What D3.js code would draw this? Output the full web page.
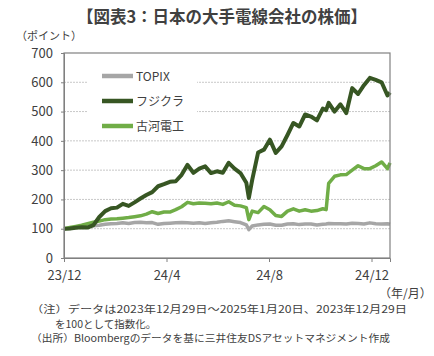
<!DOCTYPE html>
<html><head><meta charset="utf-8">
<script src="https://cdn.jsdelivr.net/npm/d3@7"></script>
<style>
body{margin:0;background:#fff;}
text{font-family:"Noto Sans CJK JP","Noto Sans",sans-serif;fill:#404040;}
</style></head>
<body><svg id="chart" width="434" height="356"></svg>
<script>
const dates = ["2023-12-29","2024-01-05","2024-01-12","2024-01-19","2024-01-26","2024-02-02","2024-02-09","2024-02-16","2024-02-23","2024-03-01","2024-03-08","2024-03-15","2024-03-22","2024-03-29","2024-04-05","2024-04-12","2024-04-19","2024-04-26","2024-05-03","2024-05-10","2024-05-17","2024-05-24","2024-05-31","2024-06-07","2024-06-14","2024-06-21","2024-06-28","2024-07-05","2024-07-12","2024-07-19","2024-07-26","2024-08-02","2024-08-05","2024-08-09","2024-08-16","2024-08-23","2024-08-30","2024-09-06","2024-09-13","2024-09-20","2024-09-27","2024-10-04","2024-10-11","2024-10-18","2024-10-25","2024-11-01","2024-11-05","2024-11-08","2024-11-15","2024-11-22","2024-11-29","2024-12-06","2024-12-13","2024-12-20","2024-12-27","2025-01-03","2025-01-10","2025-01-17","2025-01-20"];
const topix =    [100,101,105,108,109,110,112,115,117,118,120,118,121,122,120,121,115,118,119,120,121,120,119,120,118,120,122,125,127,124,121,113, 97,109,113,115,116,112,112,116,117,114,116,116,113,115,116,118,117,117,116,119,118,116,120,117,116,117,115];
const fujikura = [100,101,103,105,104,112,140,160,170,172,185,178,190,203,215,225,245,252,260,262,284,318,291,305,313,290,296,291,325,305,290,257,205,267,360,370,404,359,381,420,461,449,490,483,470,510,505,530,500,525,495,580,560,590,615,608,600,555,565];
const furukawa = [100,104,108,112,117,122,126,131,133,134,136,138,141,144,150,158,152,157,157,165,175,190,185,188,187,185,188,183,192,180,178,172,131,160,155,176,165,145,142,160,168,160,165,160,162,168,165,255,279,284,285,300,315,305,305,315,328,305,325];
const seriesNames = ["TOPIX","フジクラ","古河電工"];
const seriesColors = ["#a6a6a6","#375623","#70ad47"];
const seriesWidths = [3.5,4,3.5];
const yTicks = [0,100,200,300,400,500,600,700];
const xTickDates = ["2023-12-29","2024-04-29","2024-08-29","2024-12-29"];
const xTickLabels = ["23/12","24/4","24/8","24/12"];
const title = "【図表3：日本の大手電線会社の株価】";
const notes = ["（注）データは2023年12月29日～2025年1月20日、2023年12月29日","を100として指数化。","（出所）Bloombergのデータを基に三井住友DSアセットマネジメント作成"];

const parse = d3.timeParse("%Y-%m-%d");
const D = dates.map(parse);
const svg = d3.select("#chart");
const L=64, R=390, T=53, B=258;
const x = d3.scaleTime().domain([parse("2023-12-29"), parse("2025-01-20")]).range([L,R]);
const y = d3.scaleLinear().domain([0,700]).range([B,T]);

// title
svg.append("text").attr("x",222).attr("y",23).attr("text-anchor","middle")
  .style("font-size","16.5px").style("font-weight","bold").text(title);
svg.append("text").attr("x",16).attr("y",39.5).style("font-size","11px").text("（ポイント）");

// grid
svg.append("g").selectAll("line").data(yTicks.filter(v=>v>0&&v<700)).join("line")
  .attr("x1",L).attr("x2",R).attr("y1",d=>y(d)).attr("y2",d=>y(d))
  .attr("stroke","#c8c8c8").attr("stroke-width",1).attr("stroke-dasharray","2,1");

// legend background
svg.append("rect").attr("x",87).attr("y",62).attr("width",110).attr("height",78).attr("fill","#fff");

// lines
const data=[topix,fujikura,furukawa];
const line = d3.line().x((d,i)=>x(D[i])).y(d=>y(d)).curve(d3.curveLinear);
[0,2,1].forEach(k=>{
  svg.append("path").datum(data[k]).attr("d",line).attr("fill","none")
    .attr("stroke",seriesColors[k]).attr("stroke-width",seriesWidths[k]).attr("stroke-linejoin","round");
});

// frame
svg.append("rect").attr("x",L).attr("y",T).attr("width",R-L).attr("height",B-T)
  .attr("fill","none").attr("stroke","#808080").attr("stroke-width",1.2);

// y axis
const ya = svg.append("g").attr("transform",`translate(${L},0)`)
  .call(d3.axisLeft(y).tickValues(yTicks).tickSize(3).tickPadding(8));
ya.select(".domain").attr("stroke","#808080");
ya.selectAll(".tick line").attr("stroke","#808080");
ya.selectAll("text").style("font-size","13px").attr("fill","#404040");

// x axis
const xa = svg.append("g").attr("transform",`translate(0,${B})`)
  .call(d3.axisBottom(x).tickValues(xTickDates.map(parse)).tickFormat((d,i)=>xTickLabels[i]).tickSize(4).tickPadding(9));
xa.select(".domain").attr("stroke","#808080");
xa.selectAll(".tick line").attr("stroke","#808080");
xa.selectAll("text").style("font-size","13px").attr("fill","#404040");

svg.append("text").attr("x",379).attr("y",298).style("font-size","12px").text("（年/月）");

// legend
const lg = svg.append("g");
seriesNames.forEach((n,i)=>{
  const yy = 76 + i*25;
  lg.append("line").attr("x1",102).attr("x2",133).attr("y1",yy).attr("y2",yy)
    .attr("stroke",seriesColors[i]).attr("stroke-width",4.5);
  lg.append("text").attr("x",136).attr("y",yy+4.5).style("font-size","12px").text(n);
});

// notes
const nfs = "10px";
svg.append("text").attr("x",31).attr("y",313).style("font-size",nfs)
  .attr("textLength",376).attr("lengthAdjust","spacingAndGlyphs").text(notes[0]);
svg.append("text").attr("x",55).attr("y",327.5).style("font-size","10.5px").text(notes[1]);
svg.append("text").attr("x",31).attr("y",342).style("font-size",nfs)
  .attr("textLength",359).attr("lengthAdjust","spacingAndGlyphs").text(notes[2]);
</script></body></html>
